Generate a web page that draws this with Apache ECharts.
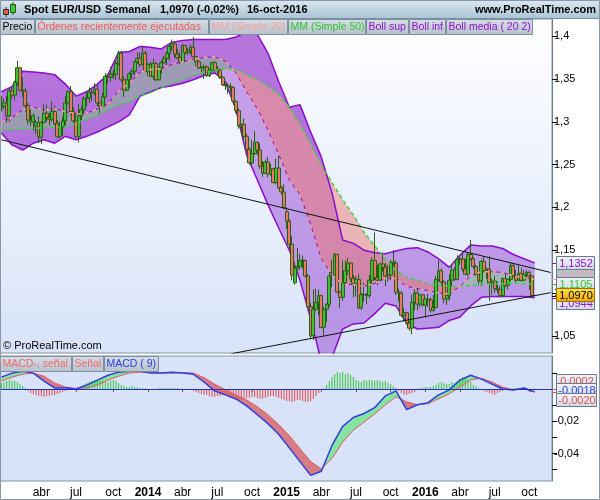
<!DOCTYPE html>
<html>
<head>
<meta charset="utf-8">
<script src="https://cdn.jsdelivr.net/npm/echarts@6/dist/echarts.min.js"></script>
<style>
html, body { margin: 0; padding: 0; background: #fff; }
#chart { width: 600px; height: 500px; }
</style>
</head>
<body>
<div id="chart"></div>
<script>
// weekly EUR/USD candles, first week starts Mon 2012-12-17
const firstWeek = Date.UTC(2012, 11, 17);
const padWeeks = 6;

const opens = [
  1.317,1.318,1.322,1.307,1.336,1.331,1.346,1.363,1.337,1.336,
  1.319,1.302,1.300,1.295,1.299,1.282,1.299,1.310,1.305,1.303,
  1.312,1.298,1.283,1.294,1.301,1.322,1.335,1.312,1.301,1.283,
  1.307,1.314,1.327,1.328,1.334,1.334,1.338,1.322,1.318,1.329,
  1.353,1.352,1.356,1.355,1.368,1.380,1.349,1.337,1.349,1.356,
  1.359,1.370,1.374,1.367,1.380,1.359,1.367,1.353,1.368,1.349,
  1.363,1.369,1.374,1.380,1.388,1.391,1.379,1.375,1.370,1.389,
  1.381,1.383,1.387,1.376,1.370,1.363,1.363,1.364,1.354,1.360,
  1.369,1.360,1.360,1.352,1.343,1.342,1.341,1.340,1.324,1.313,
  1.295,1.297,1.283,1.268,1.252,1.263,1.276,1.267,1.248,1.240,
  1.253,1.239,1.245,1.229,1.246,1.223,1.218,1.195,1.184,1.157,
  1.112,1.129,1.131,1.138,1.138,1.120,1.084,1.050,1.081,1.089,
  1.097,1.060,1.081,1.087,1.120,1.120,1.145,1.101,1.095,1.112,
  1.126,1.135,1.117,1.111,1.116,1.083,1.098,1.098,1.097,1.115,
  1.138,1.118,1.115,1.134,1.130,1.120,1.121,1.136,1.135,1.101,
  1.100,1.074,1.077,1.065,1.059,1.089,1.100,1.087,1.098,1.086,
  1.093,1.092,1.080,1.083,1.116,1.126,1.113,1.093,1.097,1.115,
  1.127,1.116,1.139,1.140,1.128,1.122,1.145,1.140,1.131,1.122,
  1.114,1.137,1.126,1.128,1.112,1.114,1.105,1.104,1.097,1.117,
  1.109,1.116,1.132,1.120,1.115,1.123,1.115,1.122,1.124,1.120,
  1.0972
];
const closes = [
  1.318,1.322,1.307,1.336,1.331,1.346,1.363,1.337,1.336,1.319,
  1.302,1.300,1.307,1.299,1.282,1.299,1.310,1.305,1.303,1.312,
  1.298,1.283,1.294,1.301,1.322,1.335,1.312,1.301,1.283,1.307,
  1.314,1.327,1.328,1.334,1.3345,1.338,1.322,1.318,1.329,1.353,
  1.352,1.356,1.355,1.368,1.380,1.349,1.337,1.349,1.356,1.359,
  1.370,1.374,1.367,1.380,1.359,1.367,1.353,1.368,1.349,1.363,
  1.369,1.374,1.380,1.388,1.391,1.379,1.375,1.370,1.389,1.381,
  1.383,1.387,1.376,1.370,1.363,1.3635,1.364,1.354,1.360,1.369,
  1.360,1.3605,1.352,1.343,1.3425,1.341,1.340,1.324,1.313,1.295,
  1.297,1.283,1.268,1.252,1.263,1.276,1.267,1.248,1.240,1.253,
  1.239,1.245,1.229,1.246,1.223,1.218,1.200,1.184,1.157,1.121,
  1.129,1.131,1.138,1.1385,1.120,1.084,1.050,1.081,1.089,1.097,
  1.060,1.081,1.087,1.120,1.1205,1.145,1.101,1.095,1.112,1.126,
  1.135,1.117,1.111,1.116,1.083,1.098,1.0985,1.097,1.115,1.138,
  1.118,1.115,1.134,1.130,1.120,1.121,1.136,1.135,1.101,1.100,
  1.074,1.077,1.065,1.059,1.089,1.100,1.087,1.098,1.086,1.093,
  1.092,1.080,1.083,1.116,1.126,1.113,1.093,1.097,1.115,1.127,
  1.116,1.139,1.140,1.128,1.122,1.145,1.140,1.131,1.122,1.114,
  1.137,1.126,1.128,1.112,1.114,1.105,1.104,1.097,1.117,1.109,
  1.116,1.132,1.120,1.115,1.123,1.115,1.122,1.124,1.120,1.097,
  1.0970
];
const lows = [
  1.312,1.315,1.299,1.300,1.327,1.325,1.342,1.335,1.329,1.312,
  1.297,1.295,1.290,1.286,1.275,1.274,1.298,1.300,1.296,1.300,
  1.296,1.280,1.281,1.283,1.296,1.320,1.308,1.298,1.281,1.276,
  1.302,1.310,1.318,1.322,1.324,1.331,1.318,1.310,1.316,1.328,
  1.345,1.347,1.350,1.349,1.366,1.346,1.329,1.336,1.339,1.350,
  1.354,1.368,1.364,1.366,1.358,1.353,1.352,1.349,1.347,1.348,
  1.356,1.368,1.366,1.371,1.383,1.374,1.373,1.367,1.369,1.379,
  1.378,1.379,1.375,1.365,1.362,1.357,1.350,1.352,1.352,1.358,
  1.358,1.356,1.350,1.342,1.337,1.333,1.334,1.320,1.310,1.292,
  1.285,1.279,1.266,1.250,1.249,1.261,1.261,1.245,1.236,1.239,
  1.235,1.237,1.228,1.227,1.222,1.215,1.198,1.175,1.151,1.115,
  1.110,1.126,1.127,1.128,1.118,1.083,1.046,1.045,1.079,1.074,
  1.059,1.051,1.066,1.084,1.107,1.117,1.100,1.082,1.091,1.109,
  1.121,1.113,1.095,1.096,1.081,1.080,1.090,1.087,1.094,1.110,
  1.115,1.109,1.114,1.125,1.108,1.113,1.115,1.131,1.098,1.090,
  1.072,1.067,1.063,1.056,1.052,1.080,1.080,1.083,1.084,1.071,
  1.084,1.077,1.078,1.082,1.113,1.108,1.088,1.086,1.091,1.108,
  1.114,1.115,1.133,1.125,1.121,1.119,1.138,1.128,1.120,1.110,
  1.108,1.124,1.117,1.091,1.098,1.100,1.100,1.095,1.095,1.107,
  1.104,1.114,1.119,1.112,1.114,1.113,1.114,1.117,1.104,1.096,
  1.0966
];
const highs = [
  1.330,1.327,1.330,1.340,1.341,1.348,1.371,1.364,1.352,1.340,
  1.322,1.314,1.310,1.302,1.306,1.301,1.321,1.320,1.310,1.324,
  1.319,1.302,1.300,1.306,1.330,1.337,1.342,1.317,1.309,1.321,
  1.318,1.330,1.335,1.340,1.339,1.345,1.343,1.323,1.334,1.357,
  1.356,1.364,1.361,1.371,1.383,1.383,1.353,1.350,1.358,1.362,
  1.371,1.381,1.381,1.389,1.383,1.369,1.370,1.374,1.370,1.364,
  1.372,1.377,1.382,1.390,1.396,1.394,1.385,1.381,1.391,1.390,
  1.386,1.390,1.399,1.377,1.372,1.365,1.367,1.366,1.362,1.370,
  1.371,1.365,1.362,1.353,1.345,1.345,1.345,1.341,1.325,1.316,
  1.298,1.304,1.286,1.270,1.279,1.289,1.277,1.275,1.254,1.256,
  1.259,1.251,1.246,1.257,1.260,1.225,1.227,1.200,1.186,1.166,
  1.136,1.153,1.146,1.144,1.139,1.122,1.088,1.104,1.105,1.104,
  1.098,1.084,1.088,1.127,1.139,1.147,1.146,1.103,1.138,1.138,
  1.141,1.136,1.121,1.120,1.122,1.100,1.112,1.100,1.121,1.142,
  1.171,1.133,1.135,1.146,1.135,1.133,1.139,1.150,1.138,1.105,
  1.102,1.083,1.078,1.067,1.098,1.105,1.106,1.099,1.099,1.094,
  1.099,1.095,1.098,1.120,1.138,1.129,1.115,1.098,1.122,1.134,
  1.130,1.144,1.144,1.147,1.140,1.147,1.162,1.142,1.133,1.124,
  1.139,1.142,1.130,1.143,1.117,1.120,1.113,1.108,1.118,1.123,
  1.117,1.136,1.134,1.127,1.133,1.129,1.127,1.127,1.126,1.121,
  1.0975
];

// indicators, every 4 weeks
const step = 4;
const bollUp = [
  1.335,1.341,1.359,1.358,1.357,1.355,1.344,1.330,1.335,1.344,
  1.355,1.381,1.382,1.388,1.387,1.385,1.393,1.395,1.396,1.396,
  1.396,1.396,1.399,1.405,1.402,1.380,1.347,1.317,1.320,1.288,
  1.259,1.217,1.162,1.158,1.150,1.147,1.146,1.149,1.152,1.153,
  1.148,1.140,1.130,1.144,1.156,1.155,1.155,1.152,1.145,1.140,1.1352
];
const bollLow = [
  1.287,1.273,1.267,1.275,1.279,1.275,1.283,1.279,1.283,1.288,
  1.294,1.300,1.308,1.330,1.335,1.340,1.342,1.345,1.349,1.354,
  1.357,1.347,1.314,1.261,1.232,1.203,1.176,1.150,1.115,1.070,
  1.020,1.025,1.058,1.064,1.065,1.076,1.088,1.085,1.065,1.058,
  1.059,1.060,1.068,1.072,1.085,1.095,1.096,1.096,1.096,1.096,1.0944
];
const mm20 = [
  1.300,1.305,1.314,1.317,1.314,1.315,1.312,1.309,1.310,1.315,
  1.321,1.336,1.345,1.358,1.361,1.362,1.367,1.370,1.373,1.375,
  1.376,1.371,1.357,1.335,1.315,1.290,1.262,1.232,1.215,1.180,
  1.140,1.121,1.110,1.110,1.108,1.111,1.117,1.117,1.108,1.105,
  1.103,1.100,1.099,1.108,1.120,1.125,1.125,1.124,1.120,1.118,1.116
];
const mm50 = [
  1.290,1.291,1.291,1.292,1.293,1.294,1.294,1.298,1.303,1.307,
  1.314,1.319,1.324,1.330,1.334,1.340,1.345,1.349,1.354,1.358,
  1.360,1.362,1.361,1.355,1.349,1.341,1.332,1.317,1.297,1.274,
  1.250,1.229,1.209,1.191,1.171,1.155,1.140,1.126,1.118,1.115,
  1.111,1.109,1.108,1.108,1.109,1.110,1.111,1.111,1.112,1.111,1.1105
];
const macd = [
  0.0073,0.0098,0.0110,0.0098,0.0049,0.0006,0.0006,0.0000,0.0024,0.0055,
  0.0085,0.0104,0.0110,0.0110,0.0098,0.0098,0.0104,0.0098,0.0091,0.0043,
  -0.0012,-0.0037,-0.0062,-0.0105,-0.0160,-0.0215,-0.0280,-0.0365,-0.0450,-0.0535,
  -0.0510,-0.0350,-0.0232,-0.0177,-0.0152,-0.0116,-0.0043,-0.0012,-0.0128,-0.0098,
  -0.0085,-0.0037,-0.0006,0.0055,0.0085,0.0061,0.0030,0.0000,-0.0006,0.0006,-0.0018
];
const signal = [
  0.0049,0.0073,0.0091,0.0098,0.0079,0.0037,0.0012,0.0003,0.0006,0.0024,
  0.0055,0.0079,0.0098,0.0104,0.0104,0.0098,0.0098,0.0101,0.0098,0.0070,
  0.0030,-0.0005,-0.0037,-0.0068,-0.0110,-0.0160,-0.0220,-0.0290,-0.0370,-0.0450,
  -0.0495,-0.0430,-0.0330,-0.0255,-0.0205,-0.0155,-0.0098,-0.0049,-0.0079,-0.0098,
  -0.0091,-0.0061,-0.0030,0.0012,0.0055,0.0067,0.0043,0.0012,-0.0006,0.0000,-0.0020
];
// weekly histogram (MACD - signal, as drawn)
const macdHist = [
  0.0037,0.0043,0.0050,0.0056,0.0050,0.0050,0.0043,0.0031,0.0019,0.0006,
  -0.0012,-0.0025,-0.0031,-0.0037,-0.0043,-0.0043,-0.0050,-0.0043,-0.0043,-0.0037,
  -0.0037,-0.0031,-0.0025,-0.0019,-0.0012,-0.0006,0.0006,-0.0006,-0.0012,0.0006,
  0.0012,0.0025,0.0037,0.0043,0.0050,0.0056,0.0056,0.0050,0.0050,0.0043,
  0.0043,0.0050,0.0056,0.0050,0.0037,0.0025,0.0019,0.0012,0.0012,0.0019,
  0.0012,0.0012,0.0006,0.0006,0.0006,-0.0006,-0.0006,-0.0006,-0.0006,0.0006,
  0.0006,0.0006,0.0006,0.0006,0.0006,0.0006,0.0006,-0.0006,-0.0006,-0.0006,
  -0.0006,-0.0006,-0.0012,-0.0019,-0.0025,-0.0031,-0.0037,-0.0037,-0.0043,-0.0050,
  -0.0050,-0.0043,-0.0043,-0.0037,-0.0037,-0.0043,-0.0050,-0.0056,-0.0062,-0.0068,
  -0.0068,-0.0062,-0.0056,-0.0056,-0.0050,-0.0050,-0.0056,-0.0062,-0.0062,-0.0056,
  -0.0050,-0.0043,-0.0043,-0.0050,-0.0056,-0.0062,-0.0068,-0.0074,-0.0074,-0.0081,
  -0.0074,-0.0068,-0.0068,-0.0074,-0.0081,-0.0081,-0.0074,-0.0062,-0.0043,-0.0025,
  -0.0012,0.0006,0.0025,0.0050,0.0074,0.0093,0.0105,0.0099,0.0105,0.0093,
  0.0099,0.0087,0.0074,0.0056,0.0050,0.0043,0.0056,0.0050,0.0056,0.0056,
  0.0050,0.0056,0.0050,0.0043,0.0050,0.0037,0.0031,0.0019,0.0006,-0.0012,
  -0.0025,-0.0037,-0.0037,-0.0031,-0.0025,-0.0019,-0.0006,0.0006,0.0006,0.0012,
  0.0012,0.0012,0.0019,0.0025,0.0037,0.0043,0.0037,0.0031,0.0031,0.0043,
  0.0037,0.0050,0.0062,0.0074,0.0068,0.0056,0.0043,0.0025,0.0019,0.0006,
  -0.0006,-0.0012,-0.0019,-0.0025,-0.0031,-0.0037,-0.0025,-0.0019,-0.0012,-0.0006,
  0.0006,0.0006,0.0006,0.0006,-0.0006,0.0006,0.0006,-0.0006,-0.0006,-0.0006,
  0.0002
];

// trend lines: [week index, price]
const trendHigh = [[0, 1.279], [206, 1.124]];
const trendLow = [[86, 1.029], [206, 1.1005]];

const priceTicks = [1.05, 1.1, 1.15, 1.2, 1.25, 1.3, 1.35, 1.4];
const macdTicks = [0.01, 0, -0.01, -0.02, -0.03, -0.04, -0.05];
const macdLabels = [-0.02, -0.04];
const monthNames = ['ene','feb','mar','abr','may','jun','jul','ago','sep','oct','nov','dic'];

const FONT = "'Liberation Sans', Arial, sans-serif";

const weeks = [];
for (let i = 0; i < opens.length + padWeeks; i++) weeks.push(new Date(firstWeek + i * 7 * 86400000));
const cats = weeks.map(d => d.toISOString().slice(0, 10));

function quarterStart(index) {
  if (index < 10) return false;
  const m = weeks[index].getUTCMonth();
  return m !== weeks[index - 1].getUTCMonth() && m % 3 === 0;
}
function fmtDate(value) {
  const d = new Date(value + 'T00:00:00Z');
  const m = d.getUTCMonth();
  return m === 0 ? '{y|' + d.getUTCFullYear() + '}' : monthNames[m];
}
const fmtNum = v => String(+v.toFixed(4)).replace('.', ',');
const sampled = arr => arr.map((v, k) => [k * step, v]);

const candles = opens.map((o, i) => [o, closes[i], lows[i], highs[i]]);

// fill between two sampled lines, colour by which one is on top
function twoColour(P, a, b, upFill, downFill, kids) {
  let top = [], bot = [], pos = null;
  const flush = () => {
    if (top.length > 1) {
      kids.push({ type: 'polygon', shape: { points: top.concat(bot.slice().reverse()) },
        style: { fill: pos ? upFill : downFill } });
    }
  };
  for (let k = 0; k < a.length; k++) {
    const pa = P(k * step, a[k]), pb = P(k * step, b[k]);
    const d = a[k] - b[k];
    const p = d >= 0;
    if (pos !== null && p !== pos) {
      const dPrev = a[k - 1] - b[k - 1];
      const t = dPrev / (dPrev - d);
      const qa = P((k - 1) * step, a[k - 1]);
      const c = [qa[0] + t * (pa[0] - qa[0]), qa[1] + t * (pa[1] - qa[1])];
      top.push(c); bot.push(c);
      flush();
      top = [c]; bot = [c];
    }
    pos = p;
    top.push(pa); bot.push(pb);
  }
  flush();
}

function priceFills(params, api) {
  const P = (i, v) => api.coord([i, v]);
  const kids = [];
  const n = bollUp.length;
  const band = [];
  for (let k = 0; k < n; k++) band.push(P(k * step, bollUp[k]));
  for (let k = n - 1; k >= 0; k--) band.push(P(k * step, bollLow[k]));
  kids.push({ type: 'polygon', shape: { points: band }, style: { fill: 'rgba(150,70,210,0.5)' } });

  // darker purple of 2013-2014: whole band at first, then upper band down to MM50
  const dTop = [], dBot = [];
  for (let k = 0; k < n && k * step <= 128; k++) {
    const b = k * step <= 80 ? bollLow[k] : Math.min(bollUp[k], Math.max(bollLow[k], mm50[k]));
    dTop.push(P(k * step, bollUp[k]));
    dBot.push(P(k * step, b));
  }
  kids.push({ type: 'polygon', shape: { points: dTop.concat(dBot.reverse()) }, style: { fill: 'rgba(133,2,189,0.28)' } });

  twoColour(P, mm20, mm50, 'rgba(110,240,100,0.32)', 'rgba(240,110,100,0.45)', kids);
  return { type: 'group', children: kids };
}

function macdFills(params, api) {
  const P = (i, v) => api.coord([i, v]);
  const kids = [];
  twoColour(P, macd, signal, 'rgba(80,225,100,0.6)', 'rgba(215,55,55,0.6)', kids);
  return { type: 'group', children: kids };
}

const chart = echarts.init(document.getElementById('chart'));

const option = {
  animation: false,
  backgroundColor: '#ffffff',
  textStyle: { fontFamily: FONT },
  grid: [
    { left: 0, right: 48, top: 19, height: 334, show: true, borderColor: '#8494a6', borderWidth: 1,
      backgroundColor: new echarts.graphic.LinearGradient(0, 0, 0, 1, [
        { offset: 0, color: '#ffffff' }, { offset: 1, color: '#d8e3f9' }]) },
    { left: 0, right: 48, top: 356, height: 125, show: true, borderColor: '#8494a6', borderWidth: 1,
      backgroundColor: '#d8e3fa' }
  ],
  xAxis: [
    { type: 'category', gridIndex: 0, data: cats, boundaryGap: true,
      axisLine: { show: false }, axisTick: { show: false }, axisLabel: { show: false }, splitLine: { show: false } },
    { type: 'category', gridIndex: 1, data: cats, boundaryGap: true,
      axisLine: { show: true, lineStyle: { color: '#8494a6' } },
      axisTick: { show: true, alignWithLabel: true, interval: quarterStart, length: 3, lineStyle: { color: '#555' } },
      axisLabel: { interval: quarterStart, formatter: fmtDate, color: '#000', fontSize: 12, margin: 6,
        rich: { y: { fontWeight: 'bold', fontSize: 12, color: '#000' } } },
      splitLine: { show: false } }
  ],
  yAxis: [
    { type: 'value', gridIndex: 0, position: 'right', min: 1.03, max: 1.42,
      axisLine: { show: true, lineStyle: { color: '#6c7c8e' } },
      axisTick: { show: true, customValues: priceTicks, length: 5, lineStyle: { color: '#000' } },
      axisLabel: { customValues: priceTicks, formatter: fmtNum, color: '#000', fontSize: 11, margin: 2 },
      splitLine: { show: false } },
    { type: 'value', gridIndex: 1, position: 'right', min: -0.057, max: 0.0204,
      axisLine: { show: true, lineStyle: { color: '#6c7c8e' } },
      axisTick: { show: true, customValues: macdTicks, length: 5, lineStyle: { color: '#000' } },
      axisLabel: { customValues: macdLabels, formatter: fmtNum, color: '#000', fontSize: 11, margin: 2 },
      splitLine: { show: false } }
  ],
  series: [
    { type: 'custom', xAxisIndex: 0, yAxisIndex: 0, renderItem: priceFills, data: [[0, 1.2]],
      clip: true, silent: true, z: 1 },
    { type: 'line', xAxisIndex: 0, yAxisIndex: 0, data: sampled(bollUp), symbol: 'none',
      lineStyle: { color: '#8a0ccc', width: 1.5 }, z: 3 },
    { type: 'line', xAxisIndex: 0, yAxisIndex: 0, data: sampled(bollLow), symbol: 'none',
      lineStyle: { color: '#8a0ccc', width: 1.5 }, z: 3 },
    { type: 'line', xAxisIndex: 0, yAxisIndex: 0, data: sampled(mm20), symbol: 'none',
      lineStyle: { color: '#8a10c0', width: 1 }, z: 3 },
    { type: 'candlestick', xAxisIndex: 0, yAxisIndex: 0, data: candles, barWidth: 3.4,
      itemStyle: { color: '#3fc03a', color0: '#ef7565', borderColor: '#2a5e12', borderColor0: '#2a5e12', borderWidth: 1 },
      z: 4 },
    { type: 'line', xAxisIndex: 0, yAxisIndex: 0, data: sampled(mm50), symbol: 'none',
      lineStyle: { color: '#3ed23e', width: 1.5, type: [4, 3] }, z: 5 },
    { type: 'line', xAxisIndex: 0, yAxisIndex: 0, data: sampled(mm20), symbol: 'none',
      lineStyle: { color: '#f4a09a', width: 1.5, type: [4, 4] }, z: 5 },
    { type: 'line', xAxisIndex: 0, yAxisIndex: 0, data: trendHigh, symbol: 'none',
      lineStyle: { color: '#111', width: 1 }, z: 6 },
    { type: 'line', xAxisIndex: 0, yAxisIndex: 0, data: trendLow, symbol: 'none',
      lineStyle: { color: '#111', width: 1 }, z: 6 },

    { type: 'custom', xAxisIndex: 1, yAxisIndex: 1, renderItem: macdFills, data: [[0, 0]],
      clip: true, silent: true, z: 1 },
    { type: 'bar', xAxisIndex: 1, yAxisIndex: 1, data: macdHist, barWidth: 1,
      itemStyle: { color: p => (p.value >= 0 ? '#2fc42f' : '#e84a4a') }, z: 2,
      markLine: { silent: true, symbol: 'none', label: { show: false },
        lineStyle: { color: '#2433bb', width: 1, type: 'solid' }, data: [{ yAxis: 0 }] } },
    { type: 'line', xAxisIndex: 1, yAxisIndex: 1, data: sampled(signal), symbol: 'none',
      lineStyle: { color: '#e05a5a', width: 1 }, z: 3 },
    { type: 'line', xAxisIndex: 1, yAxisIndex: 1, data: sampled(macd), symbol: 'none',
      lineStyle: { color: '#2a3ee6', width: 1.5 }, z: 3 }
  ]
};
chart.setOption(option);

// ---- chrome: title bar, legend tabs, value tags ----
const boxFill = () => new echarts.graphic.LinearGradient(0, 0, 0, 1, [
  { offset: 0, color: '#d6dee6' }, { offset: 1, color: '#b6c2cc' }]);
const tagFill = () => new echarts.graphic.LinearGradient(0, 0, 0, 1, [
  { offset: 0, color: '#f4f6fa' }, { offset: 1, color: '#d0d8e4' }]);

function rect(x, y, w, h, fill, stroke, z) {
  return { type: 'rect', z: z || 100, shape: { x, y, width: w, height: h },
    style: { fill, stroke: stroke || null, lineWidth: 1 } };
}
function text(x, y, s, color, font, align, z) {
  return { type: 'text', z: z || 101, x, y,
    style: { text: s, fill: color, font, align: align || 'left', verticalAlign: 'middle' } };
}
function line(x1, y1, x2, y2, color, z) {
  return { type: 'line', z: z || 100, shape: { x1, y1, x2, y2 }, style: { stroke: color, lineWidth: 1 } };
}

const g = [];
// title bar
g.push(rect(0, 0, 600, 19, new echarts.graphic.LinearGradient(0, 0, 0, 1, [
  { offset: 0, color: '#dbe8f0' }, { offset: 1, color: '#a9c4d4' }]), null, 90));
g.push(line(0, 18.5, 600, 18.5, '#7a8ea0', 91));
// small candle icon
g.push(line(6, 7, 6, 17, '#303030', 92));
g.push(rect(3.5, 9.5, 5, 5, '#e85a4a', '#303030', 93));
g.push(line(13, 2, 13, 15, '#1e5a12', 92));
g.push(rect(10.5, 4.5, 5, 8, '#44c43c', '#1e5a12', 93));
const titleFont = "bold 11px " + FONT;
g.push(text(24, 10, 'Spot EUR/USD', '#000', titleFont));
g.push(text(105, 10, 'Semanal', '#000', titleFont));
g.push(text(160, 10, '1,0970 (-0,02%)', '#000', titleFont));
g.push(text(247, 10, '16-oct-2016', '#000', titleFont));
g.push(text(596, 10, 'www.ProRealTime.com', '#000', titleFont, 'right'));

// legend tabs
const tabFont = "10.5px " + FONT;
const tagFont = "11px " + FONT;
const mainTabs = [
  [0.5, 34, 'Precio', '#000'],
  [35.5, 173, 'Órdenes recientemente ejecutadas', '#f05858'],
  [209.5, 78, 'MM (Simple 20)', '#f4a09a'],
  [288.5, 77, 'MM (Simple 50)', '#2ec42e'],
  [366.5, 42, 'Boll sup', '#9010d0'],
  [409.5, 36, 'Boll inf', '#9010d0'],
  [446.5, 86, 'Boll media ( 20 2)', '#9010d0']
];
mainTabs.forEach(t => g.push(rect(t[0], 19.5, t[1], 15, boxFill(), '#7d8fa0')));
mainTabs.forEach(t => g.push(text(t[0] + 2, 27.5, t[2], t[3], tabFont)));
const macdTabs = [
  [0.5, 71, 'MACD-, señal', '#f06a6a'],
  [72.5, 31, 'Señal', '#f06a6a'],
  [104.5, 54, 'MACD ( 9)', '#2a3ee0']
];
macdTabs.forEach(t => g.push(rect(t[0], 356.5, t[1], 15, boxFill(), '#7d8fa0')));
macdTabs.forEach(t => g.push(text(t[0] + 2, 364.5, t[2], t[3], tabFont)));
g.push(text(3, 346, '© ProRealTime.com', '#000', tagFont));

// value tags on the right axis
const last = a => a[a.length - 1];
const py = v => chart.convertToPixel({ yAxisIndex: 0 }, v);
const my = v => chart.convertToPixel({ yAxisIndex: 1 }, v);
const fmtTag = v => v.toFixed(4).replace('.', ',');
let tagZ = 102;
function tag(yCenter, yMark, value, color, fill, stroke, w) {
  w = w || 38;
  g.push(line(552, Math.round(yMark) + 0.5, 557, Math.round(yMark) + 0.5, color, tagZ++));
  const top = Math.round(yCenter - 6.5) + 0.5;
  g.push(rect(556.5, top, w, 13, fill || tagFill(), stroke || '#6a7a8a', tagZ++));
  g.push(text(557 + w / 2, top + 7, fmtTag(value), color, tagFont, 'center', tagZ++));
}

tag(py(last(bollLow)) + 5, py(last(bollLow)), last(bollLow), '#9010d0');
tag(py(last(mm20)) - 8.5, py(last(mm20)), last(mm20), '#f4a09a', '#b8c2ce');
tag(py(last(bollUp)), py(last(bollUp)), last(bollUp), '#9010d0');
tag(py(last(mm50)) - 1, py(last(mm50)), last(mm50), '#2ec42e');
tag(py(last(closes)) - 1.5, py(last(closes)), last(closes), '#000',
  new echarts.graphic.LinearGradient(0, 0, 0, 1, [{ offset: 0, color: '#ffe24a' }, { offset: 1, color: '#f2a600' }]), '#9a7000');

tag(my(0) - 8, my(last(macdHist)), last(macdHist), '#e05050', null, null, 40);
tag(my(0) + 1, my(last(macd)), last(macd), '#2a3ee6', null, null, 40);
tag(my(0) + 10.5, my(last(signal)), last(signal), '#e05050', null, null, 40);

// outer frame
g.push({ type: 'rect', z: 200, shape: { x: 0.5, y: 0.5, width: 599, height: 499 },
  style: { fill: null, stroke: '#8898a8', lineWidth: 1 } });

chart.setOption({ graphic: g });
</script>
</body>
</html>
